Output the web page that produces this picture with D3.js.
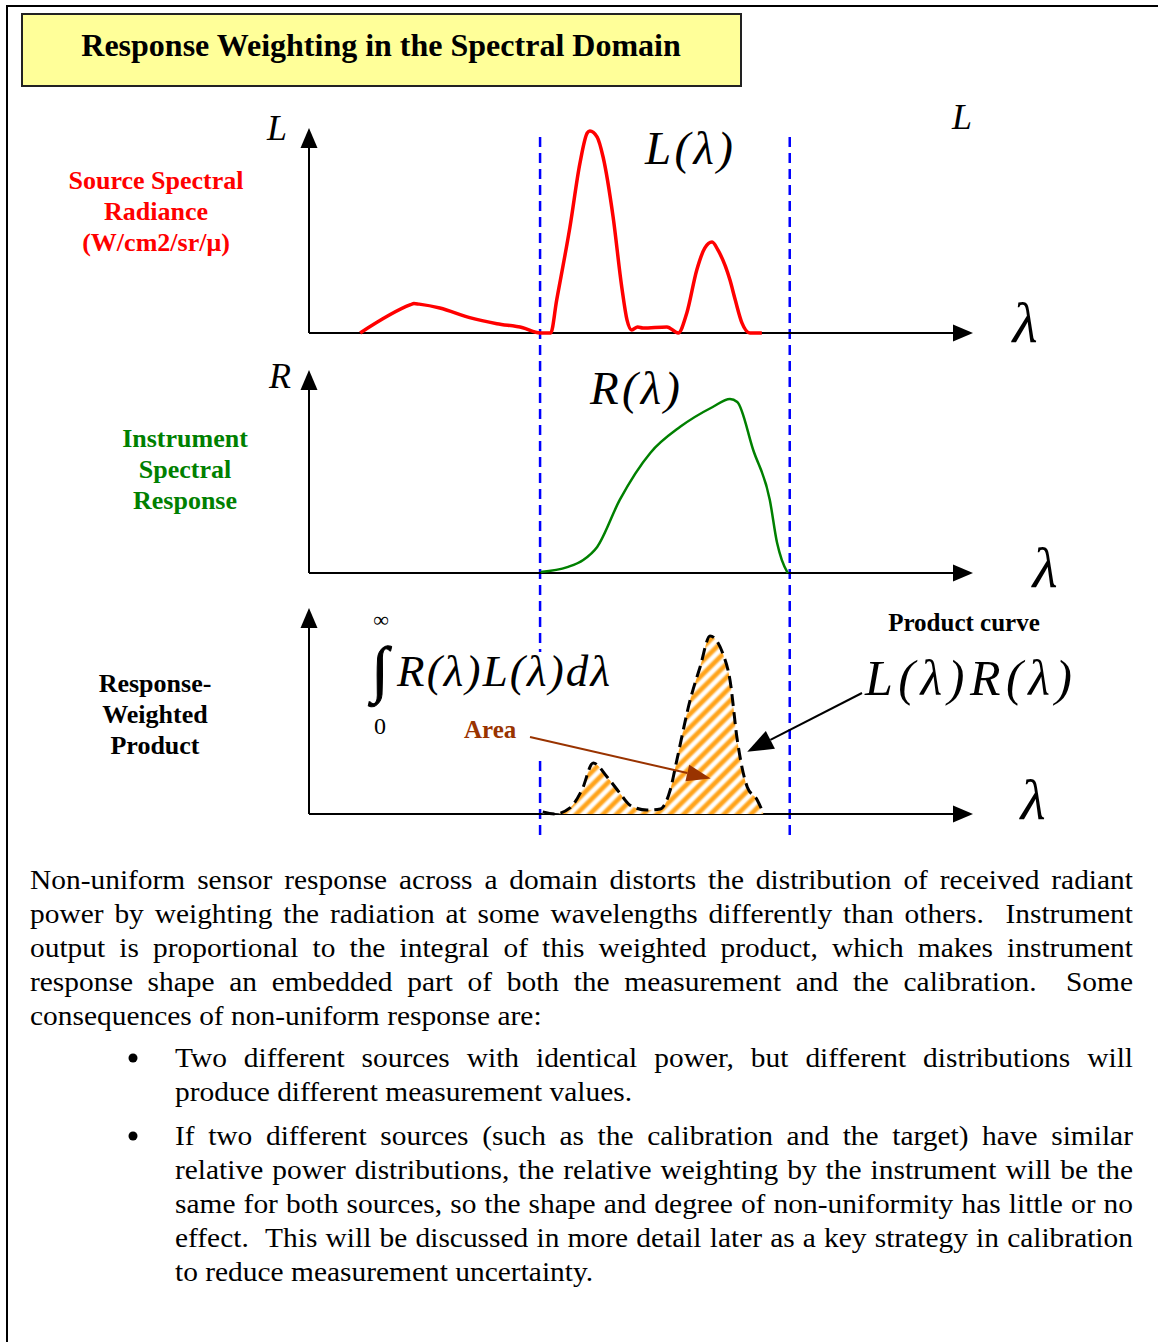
<!DOCTYPE html>
<html><head><meta charset="utf-8">
<script src="https://cdn.jsdelivr.net/npm/d3@7/dist/d3.min.js"></script>
<style>body{margin:0;background:#fff;}svg{display:block;}</style>
</head><body>
<svg id="c" width="1158" height="1342"></svg>
<script>
// ---------------- data ----------------
const wavelengthDomain = [0, 100];
const radianceLambda = [7.7, 15.3, 15.8, 16.6, 19.7, 24.2, 28.3, 32.2, 34.8, 36.4, 37.3, 39.3, 40.8, 41.9, 42.3, 43.4, 44.3, 45.8, 47.1, 47.9, 48.6, 49.5, 50.3, 53.9, 55.6, 56.9, 58.4, 59.6, 60.7, 61.6, 63.4, 64.2, 65.2, 66.4, 68.2];
const radianceValue  = [0, 14.0, 14.6, 14.3, 12.4, 7.6, 4.6, 2.6, 0, 0, 16.3, 52.5, 84, 99, 100, 97, 87, 57.4, 22.8, 6.4, 1.5, 3, 2.5, 3, 0, 9.9, 31.2, 42, 45, 41, 26.2, 16.3, 5, 0, 0];
const responseLambda = [34.9, 38.9, 41.3, 43.4, 46.8, 51.4, 55.9, 60.8, 63.4, 64.5, 66.9, 69.4, 70.5, 71.2, 72.1];
const responseValue  = [0.6, 3.4, 7.5, 15, 42, 69, 84, 95.4, 100, 98.3, 70.7, 42, 17.2, 7.5, 0];
const productLambda  = [35.2, 37.0, 39.3, 41.1, 42.8, 44.9, 46.8, 48.3, 50.9, 52.9, 54.4, 55.4, 57.4, 58.9, 60.4, 62.3, 63.4, 64.5, 66.0, 67.5, 68.4];
const productValue   = [1.1, 0, 3.4, 13.5, 28.7, 20.8, 11.8, 5.1, 2.2, 2.8, 13.5, 30.3, 64, 82.6, 100, 90.4, 75.3, 41.6, 15.2, 7.9, 0.6];
const bandEdges = [34.8, 72.4];
const axisTopValues = [101.5, 116.7, 115.7];
const areaArrowTarget = [60.5, 20];
const productArrowTarget = [66.0, 35];

const titleText = "Response Weighting in the Spectral Domain";
const sourceLabel = ["Source Spectral", "Radiance", "(W/cm2/sr/\u03bc)"];
const instrumentLabel = ["Instrument", "Spectral", "Response"];
const productLabel = ["Response-", "Weighted", "Product"];

const paragraphLines = [
  "Non-uniform sensor response across a domain distorts the distribution of received radiant",
  "power by weighting the radiation at some wavelengths differently than others.  Instrument",
  "output is proportional to the integral of this weighted product, which makes instrument",
  "response shape an embedded part of both the measurement and the calibration.  Some",
  "consequences of non-uniform response are:"
];
const bullet1Lines = [
  "Two different sources with identical power, but different distributions will",
  "produce different measurement values."
];
const bullet2Lines = [
  "If two different sources (such as the calibration and the target) have similar",
  "relative power distributions, the relative weighting by the instrument will be the",
  "same for both sources, so the shape and degree of non-uniformity has little or no",
  "effect.  This will be discussed in more detail later as a key strategy in calibration",
  "to reduce measurement uncertainty."
];

// ---------------- drawing ----------------
const SERIF = "'Liberation Serif','Times New Roman',Times,serif";
const svg = d3.select("#c").style("font-family", SERIF);

const x  = d3.scaleLinear(wavelengthDomain, [309, 973]);
const yL = d3.scaleLinear([0, 100], [333, 131]);
const yR = d3.scaleLinear([0, 100], [573, 399]);
const yP = d3.scaleLinear([0, 100], [814, 636]);

// hatch pattern
const defs = svg.append("defs");
const grad = defs.append("linearGradient").attr("id", "stripeGrad");
[[0,"#fff"],[0.12,"#fff"],[0.38,"#ffa31a"],[0.62,"#ffa31a"],[0.88,"#fff"],[1,"#fff"]]
  .forEach(([o,c]) => grad.append("stop").attr("offset", o).attr("stop-color", c));
const pat = defs.append("pattern").attr("id", "hatch").attr("patternUnits", "userSpaceOnUse")
  .attr("width", 9.5).attr("height", 9.5).attr("patternTransform", "rotate(45)");
pat.append("rect").attr("width", 9.5).attr("height", 9.5).attr("fill", "url(#stripeGrad)");

// outer frame
svg.append("path").attr("d", "M7,1342 L7,6 L1158,6").attr("fill", "none").attr("stroke", "#000").attr("stroke-width", 2);

// title box
svg.append("rect").attr("x", 22).attr("y", 14).attr("width", 719).attr("height", 72)
  .attr("fill", "#ffff99").attr("stroke", "#222").attr("stroke-width", 2);
svg.append("text").attr("x", 381).attr("y", 56).attr("text-anchor", "middle")
  .attr("font-size", 32).attr("font-weight", "bold").text(titleText);

function arrow(x1, y1, x2, y2, color, sw, hl, hw) {
  const a = Math.atan2(y2 - y1, x2 - x1);
  const bx = x2 - hl * Math.cos(a), by = y2 - hl * Math.sin(a);
  svg.append("line").attr("x1", x1).attr("y1", y1).attr("x2", bx).attr("y2", by)
    .attr("stroke", color).attr("stroke-width", sw);
  const px = -Math.sin(a) * hw / 2, py = Math.cos(a) * hw / 2;
  svg.append("path").attr("d", `M${x2},${y2}L${bx + px},${by + py}L${bx - px},${by - py}Z`).attr("fill", color);
}

// blue dashed band edges
bandEdges.forEach(l => {
  svg.append("line").attr("x1", x(l)).attr("x2", x(l)).attr("y1", 137).attr("y2", 840)
    .attr("stroke", "#0000ff").attr("stroke-width", 2.5).attr("stroke-dasharray", "10,6");
});

// axes
[yL, yR, yP].forEach((ys, i) => {
  arrow(x(0), ys(0), x(0), ys(axisTopValues[i]), "#000", 2, 20, 17);
  arrow(x(0), ys(0), x(100), ys(0), "#000", 2, 20, 17);
});

// curves
const pts = (ls, vs) => ls.map((l, i) => [l, vs[i]]);
const lineL = d3.line().x(d => x(d[0])).y(d => yL(d[1])).curve(d3.curveMonotoneX);
const lineR = d3.line().x(d => x(d[0])).y(d => yR(d[1])).curve(d3.curveMonotoneX);
const lineP = d3.line().x(d => x(d[0])).y(d => yP(d[1])).curve(d3.curveMonotoneX);
const areaP = d3.area().x(d => x(d[0])).y0(yP(0)).y1(d => yP(d[1])).curve(d3.curveMonotoneX);

svg.append("path").attr("d", lineL(pts(radianceLambda, radianceValue)))
  .attr("fill", "none").attr("stroke", "#ff0000").attr("stroke-width", 3.5).attr("stroke-linejoin", "round");
svg.append("path").attr("d", lineR(pts(responseLambda, responseValue)))
  .attr("fill", "none").attr("stroke", "#008000").attr("stroke-width", 2.5);
svg.append("path").attr("d", areaP(pts(productLambda, productValue))).attr("fill", "url(#hatch)");
svg.append("path").attr("d", lineP(pts(productLambda, productValue)))
  .attr("fill", "none").attr("stroke", "#000").attr("stroke-width", 3).attr("stroke-dasharray", "12,6");

// formula box (covers dashed line)
svg.append("rect").attr("x", 366).attr("y", 652).attr("width", 250).attr("height", 104).attr("fill", "#fff");

// axis letters
const it = (t, xx, yy, fs, anchor) => svg.append("text").attr("x", xx).attr("y", yy)
  .attr("font-size", fs).attr("font-style", "italic").attr("text-anchor", anchor || "start").text(t);
it("L", 277, 140, 36, "middle");
it("R", 280, 388, 36, "middle");
it("L", 962, 129, 36, "middle");
it("\u03bb", 1025, 342, 58, "middle");
it("\u03bb", 1045, 587, 58, "middle");
it("\u03bb", 1033, 819, 58, "middle");
it("L(\u03bb)", 645, 164, 47).attr("textLength", 88);
it("R(\u03bb)", 590, 404, 47).attr("textLength", 90);
it("L(\u03bb)R(\u03bb)", 865, 695, 50).attr("textLength", 207);
it("R(\u03bb)L(\u03bb)d\u03bb", 397, 686, 45).attr("textLength", 213);

// integral with limits
svg.append("text").attr("x", 381).attr("y", 627).attr("text-anchor", "middle").attr("font-size", 22).text("\u221e");
svg.append("text").attr("x", 380).attr("y", 690).attr("text-anchor", "middle").attr("font-size", 62)
  .attr("stroke", "#000").attr("stroke-width", 1).text("\u222b");
svg.append("text").attr("x", 380).attr("y", 734).attr("text-anchor", "middle").attr("font-size", 24).text("0");

// Area label + arrow
svg.append("text").attr("x", 464).attr("y", 738).attr("font-size", 25).attr("font-weight", "bold")
  .attr("fill", "#993300").text("Area");
arrow(530, 737, x(areaArrowTarget[0]), yP(areaArrowTarget[1]), "#993300", 2, 24, 17);

// Product curve label + arrow
svg.append("text").attr("x", 964).attr("y", 631).attr("text-anchor", "middle").attr("font-size", 25)
  .attr("font-weight", "bold").text("Product curve");
arrow(862, 693, x(productArrowTarget[0]), yP(productArrowTarget[1]), "#000", 2, 26, 20);

// side labels
function block(lines, cx, y0, color) {
  lines.forEach((t, i) => svg.append("text").attr("x", cx).attr("y", y0 + i * 31)
    .attr("text-anchor", "middle").attr("font-size", 26).attr("font-weight", "bold").attr("fill", color).text(t));
}
block(sourceLabel, 156, 189, "#ff0000");
block(instrumentLabel, 185, 447, "#008000");
block(productLabel, 155, 692, "#000");

// paragraph text
const FS = 27, K = 1.09;
function textLine(t, x0, x1, y, justify) {
  const words = t.split(" ");
  const nodes = words.map(w => svg.append("text").attr("font-size", FS).text(w));
  const widths = nodes.map(n => (n.text() ? n.node().getComputedTextLength() : 0) * K);
  const sum = d3.sum(widths);
  const gap = justify && words.length > 1 ? (x1 - x0 - sum) / (words.length - 1) : FS * 0.25 * K;
  let cx = x0;
  nodes.forEach((n, i) => { n.attr("transform", `translate(${cx},${y}) scale(${K},1)`); cx += widths[i] + gap; });
}
const LH = 33.9;
paragraphLines.forEach((t, i) => textLine(t, 30, 1133, 889 + i * LH, i < paragraphLines.length - 1));
bullet1Lines.forEach((t, i) => textLine(t, 175, 1133, 1067 + i * LH, i < bullet1Lines.length - 1));
bullet2Lines.forEach((t, i) => textLine(t, 175, 1133, 1145 + i * LH, i < bullet2Lines.length - 1));
[1067, 1145].forEach(yy => svg.append("circle").attr("cx", 133).attr("cy", yy - 9).attr("r", 4.5).attr("fill", "#000"));
</script>
</body></html>
